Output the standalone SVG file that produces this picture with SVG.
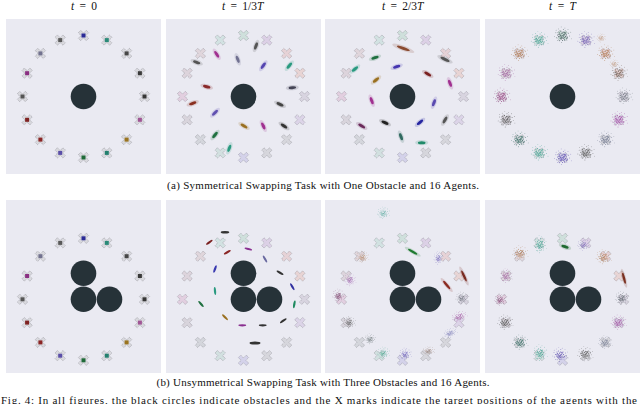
<svg xmlns="http://www.w3.org/2000/svg" xmlns:xlink="http://www.w3.org/1999/xlink" width="640" height="404" viewBox="0 0 640 404">
<style>
.pn{fill:#eaeaf2}
.ob{fill:#263238}
.tx{font-family:"Liberation Serif","Times New Roman",serif;fill:#111}
.xs{stroke:#8e8e96;stroke-width:.6;stroke-dasharray:.9 .7}
</style>
<defs>
<g id="xm"><path class="xs" transform="rotate(45)" d="M-1.7,-5.6H1.7V-1.7H5.6V1.7H1.7V5.6H-1.7V1.7H-5.6V-1.7H-1.7Z"/></g>
<g id="cl" opacity=".8">
<circle cx="-1" cy=".5" r=".6"/><circle cx="1.5" cy="-1" r=".6"/><circle cx="-2.5" cy="-1.5" r=".6"/><circle cx="2" cy="2" r=".6"/><circle cx=".5" cy="-3" r=".6"/><circle cx="-3.5" cy="1" r=".6"/><circle cx="3.5" cy="-.5" r=".6"/><circle cx="-1" cy="3" r=".6"/><circle cx="1" cy="1.2" r=".6"/><circle cx="-.5" cy="-1.8" r=".6"/><circle cx="2.8" cy="1" r=".6"/><circle cx="-2" cy="2.5" r=".6"/><circle cx="0" cy="4.5" r=".5"/><circle cx="4.5" cy="1.5" r=".5"/><circle cx="-4.5" cy="-.5" r=".5"/><circle cx="-1.5" cy="-4" r=".5"/><circle cx="3" cy="-3" r=".5"/><circle cx="-3" cy="-3" r=".5"/><circle cx="5.5" cy="-2" r=".45"/><circle cx="-5.5" cy="2" r=".45"/><circle cx="1.8" cy="4" r=".5"/><circle cx="-2.8" cy="4.8" r=".45"/><circle cx="6.5" cy=".5" r=".4"/><circle cx="-6" cy="-2.5" r=".4"/><circle cx=".8" cy="-5.5" r=".45"/><circle cx="-.8" cy="6.5" r=".4"/><circle cx="4" cy="4.2" r=".4"/><circle cx="-4.2" cy="4.5" r=".4"/><circle cx="7.5" cy="-3" r=".35"/><circle cx="-7.2" cy="1" r=".35"/><circle cx="2.2" cy="-6.8" r=".35"/><circle cx="-3.5" cy="-6" r=".35"/><circle cx="8" cy="3" r=".3"/><circle cx="-1.2" cy="-7.8" r=".3"/><circle cx="5" cy="-5.5" r=".35"/><circle cx="-5.8" cy="-4.8" r=".35"/><circle cx=".3" cy=".2" r=".7"/><circle cx="1.2" cy="-.4" r=".7"/><circle cx="-.6" cy="1.8" r=".7"/><circle cx="2.5" cy="-2" r=".6"/><circle cx="-1.8" cy="-.2" r=".7"/><circle cx=".6" cy="2.6" r=".6"/><circle cx="-2.2" cy="1.2" r=".6"/><circle cx="1.8" cy="-2.6" r=".6"/><circle cx="-3.2" cy="-.8" r=".55"/><circle cx="3.8" cy="2.6" r=".5"/>
</g>
<g id="ag"><ellipse rx="6.5" ry="2.6" opacity=".18"/><ellipse rx="3.8" ry="1.5"/></g>
<g id="ag2"><ellipse rx="3.9" ry="1.1"/></g>
<g id="start">
<use xlink:href="#xm" x="61" y="0" fill="#d9d9de"/><use xlink:href="#xm" x="56.4" y="-23.3" fill="#d9d9de"/><use xlink:href="#xm" x="43.1" y="-43.1" fill="#d9d9de"/><use xlink:href="#xm" x="23.3" y="-56.4" fill="#d9d9de"/><use xlink:href="#xm" x="0" y="-61" fill="#d9d9de"/><use xlink:href="#xm" x="-23.3" y="-56.4" fill="#d9d9de"/><use xlink:href="#xm" x="-43.1" y="-43.1" fill="#d9d9de"/><use xlink:href="#xm" x="-56.4" y="-23.3" fill="#d9d9de"/><use xlink:href="#xm" x="-61" y="0" fill="#d9d9de"/><use xlink:href="#xm" x="-56.4" y="23.3" fill="#d9d9de"/><use xlink:href="#xm" x="-43.1" y="43.1" fill="#d9d9de"/><use xlink:href="#xm" x="-23.3" y="56.4" fill="#d9d9de"/><use xlink:href="#xm" x="0" y="61" fill="#d9d9de"/><use xlink:href="#xm" x="23.3" y="56.4" fill="#d9d9de"/><use xlink:href="#xm" x="43.1" y="43.1" fill="#d9d9de"/><use xlink:href="#xm" x="56.4" y="23.3" fill="#d9d9de"/>
<rect x="59" y="-2" width="4" height="4" fill="#363636"/>
<rect x="54.4" y="-25.3" width="4" height="4" fill="#3a3a3a"/>
<rect x="41.1" y="-45.1" width="4" height="4" fill="#474747"/>
<rect x="21.3" y="-58.4" width="4" height="4" fill="#2a8a78"/>
<rect x="-2" y="-63" width="4" height="4" fill="#2b2b96"/>
<rect x="-25.3" y="-58.4" width="4" height="4" fill="#595959"/>
<rect x="-45.1" y="-45.1" width="4" height="4" fill="#72728f"/>
<rect x="-58.4" y="-25.3" width="4" height="4" fill="#8a2f82"/>
<rect x="-63" y="-2" width="4" height="4" fill="#555"/>
<rect x="-58.4" y="21.3" width="4" height="4" fill="#7f2222"/>
<rect x="-45.1" y="41.1" width="4" height="4" fill="#8b2525"/>
<rect x="-25.3" y="54.4" width="4" height="4" fill="#5a4ea8"/>
<rect x="-2" y="59" width="4" height="4" fill="#1f6a38"/>
<rect x="21.3" y="54.4" width="4" height="4" fill="#23806f"/>
<rect x="41.1" y="41.1" width="4" height="4" fill="#9a7420"/>
<rect x="54.4" y="21.3" width="4" height="4" fill="#a05595"/>
</g>
<g id="ringp">
<use xlink:href="#xm" x="61" y="0" fill="#d8d4e0"/><use xlink:href="#xm" x="56.4" y="-23.3" fill="#e8d4d4"/><use xlink:href="#xm" x="43.1" y="-43.1" fill="#e6d2d6"/><use xlink:href="#xm" x="23.3" y="-56.4" fill="#dcd0e6"/><use xlink:href="#xm" x="0" y="-61" fill="#cfe0dc"/><use xlink:href="#xm" x="-23.3" y="-56.4" fill="#d2e2e2"/><use xlink:href="#xm" x="-43.1" y="-43.1" fill="#e0d6dc"/><use xlink:href="#xm" x="-56.4" y="-23.3" fill="#ddd4dc"/><use xlink:href="#xm" x="-61" y="0" fill="#e2cfe0"/><use xlink:href="#xm" x="-56.4" y="23.3" fill="#d8d4dc"/><use xlink:href="#xm" x="-43.1" y="43.1" fill="#d4d6dc"/><use xlink:href="#xm" x="-23.3" y="56.4" fill="#d2e0e0"/><use xlink:href="#xm" x="0" y="61" fill="#d4d2ea"/><use xlink:href="#xm" x="23.3" y="56.4" fill="#d6d6dc"/><use xlink:href="#xm" x="43.1" y="43.1" fill="#d6d6dc"/><use xlink:href="#xm" x="56.4" y="23.3" fill="#dcd4e8"/>
</g>
</defs>
<rect width="640" height="404" fill="#fff"/>

<g id="titles" class="tx" font-size="11.5" text-anchor="middle" word-spacing="2.5">
<text x="84" y="10"><tspan font-style="italic">t</tspan> = 0</text>
<text x="242.7" y="10"><tspan font-style="italic">t</tspan> = 1/3<tspan font-style="italic">T</tspan></text>
<text x="402.7" y="10"><tspan font-style="italic">t</tspan> = 2/3<tspan font-style="italic">T</tspan></text>
<text x="562.5" y="10"><tspan font-style="italic">t</tspan> = <tspan font-style="italic">T</tspan></text>
</g>

<g id="a-t0">
<rect class="pn" x="6" y="19" width="155" height="155"/>
<circle class="ob" cx="83.5" cy="96.5" r="12.8"/>
<use xlink:href="#start" x="83.5" y="96.5"/>
</g>

<g id="a-t13">
<rect class="pn" x="166" y="19" width="155" height="155"/>
<circle class="ob" cx="243.5" cy="96.5" r="12.8"/>
<use xlink:href="#ringp" x="243.5" y="96.5"/>
<use xlink:href="#ag" fill="#a03090" transform="translate(216.7,54.3) rotate(58)"/>
<use xlink:href="#ag" fill="#555" transform="translate(196.7,62.3) rotate(20)"/>
<use xlink:href="#ag" fill="#707090" transform="translate(237.7,59.3) rotate(70)"/>
<use xlink:href="#ag" fill="#555" transform="translate(256,46) rotate(-70)"/>
<use xlink:href="#ag" fill="#5545b0" transform="translate(263.3,65.7) rotate(-55)"/>
<use xlink:href="#ag" fill="#2a9a80" transform="translate(289.3,65.7) rotate(-50)"/>
<use xlink:href="#ag" fill="#8a2a2a" transform="translate(206.7,86.7) rotate(15)"/>
<use xlink:href="#ag" fill="#445" transform="translate(292.3,87.7) rotate(-5)"/>
<use xlink:href="#ag" fill="#8a3020" transform="translate(192.7,103.3) rotate(-20)"/>
<use xlink:href="#ag" fill="#444" transform="translate(280,104.3) rotate(25)"/>
<use xlink:href="#ag" fill="#6050b0" transform="translate(215,112.7) rotate(-45)"/>
<use xlink:href="#ag" fill="#9a7020" transform="translate(244,126) rotate(30)"/>
<use xlink:href="#ag" fill="#a03090" transform="translate(263.3,126) rotate(65)"/>
<use xlink:href="#ag" fill="#333" transform="translate(284,126) rotate(35)"/>
<use xlink:href="#ag" fill="#1f7040" transform="translate(215,135) rotate(-50)"/>
<use xlink:href="#ag" fill="#2a9a80" transform="translate(229.3,148.3) rotate(-70)"/>
</g>

<g id="a-t23">
<rect class="pn" x="325" y="19" width="155" height="155"/>
<circle class="ob" cx="402.5" cy="96.5" r="12.8"/>
<use xlink:href="#ringp" x="402.5" y="96.5"/>
<use xlink:href="#ag" fill="#8a4a30" transform="translate(403.3,48.3) rotate(20) scale(1.8,1)"/>
<use xlink:href="#ag" fill="#555" transform="translate(445,59.3) rotate(25) scale(1.3,1)"/>
<use xlink:href="#ag" fill="#1f7040" transform="translate(375,57.7) rotate(-20)"/>
<use xlink:href="#ag" fill="#2a9a80" transform="translate(355,69) rotate(-40)"/>
<use xlink:href="#ag" fill="#4535b0" transform="translate(396.7,66.7) rotate(-20)"/>
<use xlink:href="#ag" fill="#7a2020" transform="translate(427.7,74) rotate(30)"/>
<use xlink:href="#ag" fill="#a03090" transform="translate(450,83.3) rotate(70)"/>
<use xlink:href="#ag" fill="#9a7020" transform="translate(376,80) rotate(-40)"/>
<use xlink:href="#ag" fill="#a03090" transform="translate(371.7,100.7) rotate(70)"/>
<use xlink:href="#ag" fill="#5a4ab0" transform="translate(434,102.7) rotate(-70)"/>
<use xlink:href="#ag" fill="#555" transform="translate(445,120) rotate(-60)"/>
<use xlink:href="#ag" fill="#2525a0" transform="translate(420,122.3) rotate(-40)"/>
<use xlink:href="#ag" fill="#222" transform="translate(385,122.7) rotate(25)"/>
<use xlink:href="#ag" fill="#6a2a5a" transform="translate(361.7,126) rotate(30)"/>
<use xlink:href="#ag" fill="#306a60" transform="translate(401,136.7) rotate(70)"/>
<use xlink:href="#ag" fill="#1f8a6a" transform="translate(421.7,142.7) rotate(0)"/>
</g>

<g id="a-tT">
<rect class="pn" x="485" y="19" width="155" height="155"/>
<circle class="ob" cx="562.5" cy="96.5" r="12.8"/>
<use xlink:href="#ringp" x="562.5" y="96.5"/>
<use xlink:href="#cl" fill="#707880" transform="translate(624,96.5) scale(1.1)"/>
<use xlink:href="#cl" fill="#6a5a50" transform="translate(618.9,73.2) scale(1.1)"/>
<use xlink:href="#cl" fill="#b07a50" transform="translate(605.6,53.4) scale(1.1)"/>
<use xlink:href="#cl" fill="#b07a50" transform="translate(601,38) scale(.6)"/>
<use xlink:href="#cl" fill="#b07a50" transform="translate(614,64) scale(.6)"/>
<use xlink:href="#cl" fill="#6a5ab0" transform="translate(585.8,40.1) scale(1.1)"/>
<use xlink:href="#cl" fill="#405858" transform="translate(562.5,35.5) scale(1.1)"/>
<use xlink:href="#cl" fill="#40a090" transform="translate(539.2,40.1) scale(1.1)"/>
<use xlink:href="#cl" fill="#b07a50" transform="translate(519.4,53.4) scale(1.1)"/>
<use xlink:href="#cl" fill="#a060a0" transform="translate(506.1,73.2) scale(1.1)"/>
<use xlink:href="#cl" fill="#904080" transform="translate(501.5,96.5) scale(1.1)"/>
<use xlink:href="#cl" fill="#505050" transform="translate(506.1,119.8) scale(1.1)"/>
<use xlink:href="#cl" fill="#306a60" transform="translate(519.4,139.6) scale(1.1)"/>
<use xlink:href="#cl" fill="#40a090" transform="translate(539.2,152.9) scale(1.1)"/>
<use xlink:href="#cl" fill="#5a4ab0" transform="translate(562.5,157.5) scale(1.1)"/>
<use xlink:href="#cl" fill="#555" transform="translate(585.8,152.9) scale(1.1)"/>
<use xlink:href="#cl" fill="#707890" transform="translate(605.6,139.6) scale(1.1)"/>
<use xlink:href="#cl" fill="#a040a0" transform="translate(618.9,119.8) scale(1.1)"/>
</g>

<text id="cap-a" class="tx" font-size="11" x="323" y="189" text-anchor="middle" textLength="312">(a) Symmetrical Swapping Task with One Obstacle and 16 Agents.</text>

<g id="b-t0">
<rect class="pn" x="6" y="200" width="155" height="173"/>
<circle class="ob" cx="83.5" cy="273.3" r="12.8"/>
<circle class="ob" cx="83.5" cy="299.3" r="12.8"/>
<circle class="ob" cx="109.5" cy="299.3" r="12.8"/>
<use xlink:href="#start" x="83.5" y="299.3"/>
</g>

<g id="b-t13">
<rect class="pn" x="166" y="200" width="155" height="173"/>
<circle class="ob" cx="243.5" cy="273.3" r="12.8"/>
<circle class="ob" cx="243.5" cy="299.3" r="12.8"/>
<circle class="ob" cx="269.5" cy="299.3" r="12.8"/>
<use xlink:href="#ringp" x="243.5" y="299.3"/>
<use xlink:href="#ag2" fill="#333" transform="translate(225,232.3) rotate(0) scale(1.1)"/>
<use xlink:href="#ag2" fill="#7a2020" transform="translate(209.3,242.3) rotate(-35)"/>
<use xlink:href="#ag2" fill="#8a3090" transform="translate(248.3,249) rotate(15)"/>
<use xlink:href="#ag2" fill="#8a2525" transform="translate(227.3,252.3) rotate(-30)"/>
<use xlink:href="#ag2" fill="#6a6aa0" transform="translate(265,259) rotate(60)"/>
<use xlink:href="#ag2" fill="#3a3ab0" transform="translate(215,269) rotate(-70)"/>
<use xlink:href="#ag2" fill="#333" transform="translate(280,272.7) rotate(30)"/>
<use xlink:href="#ag2" fill="#3030a0" transform="translate(292.3,286.7) rotate(60)"/>
<use xlink:href="#ag2" fill="#2a9a80" transform="translate(215,291) rotate(85)"/>
<use xlink:href="#ag2" fill="#1f7040" transform="translate(201,304) rotate(50)"/>
<use xlink:href="#ag2" fill="#1f8a60" transform="translate(294.3,304.3) rotate(-80)"/>
<use xlink:href="#ag2" fill="#9a7020" transform="translate(225,317.3) rotate(45)"/>
<use xlink:href="#ag2" fill="#333" transform="translate(283.3,320.7) rotate(-35)"/>
<use xlink:href="#ag2" fill="#8a3090" transform="translate(242.3,325.3) rotate(0)"/>
<use xlink:href="#ag2" fill="#333" transform="translate(262.7,325.3) rotate(0)"/>
<use xlink:href="#ag2" fill="#333" transform="translate(255,343) rotate(0) scale(1.4)"/>
</g>

<g id="b-t23">
<rect class="pn" x="325" y="200" width="155" height="173"/>
<circle class="ob" cx="402.5" cy="273.3" r="12.8"/>
<circle class="ob" cx="402.5" cy="299.3" r="12.8"/>
<circle class="ob" cx="428.5" cy="299.3" r="12.8"/>
<use xlink:href="#ringp" x="402.5" y="299.3"/>
<use xlink:href="#cl" fill="#40a090" transform="translate(383.3,213.3) scale(.8)"/>
<use xlink:href="#cl" fill="#b07a50" transform="translate(362.5,257.3) scale(.8)"/>
<use xlink:href="#cl" fill="#a060b0" transform="translate(350,280) scale(.75,.9)"/>
<use xlink:href="#cl" fill="#703060" transform="translate(338.3,296) scale(.75,.9)"/>
<use xlink:href="#cl" fill="#505860" transform="translate(461.7,298.3) scale(.8)"/>
<use xlink:href="#cl" fill="#a050a0" transform="translate(459.3,316.7) rotate(-20) scale(1,.7)"/>
<use xlink:href="#cl" fill="#404040" transform="translate(349.3,322.7) scale(.8)"/>
<use xlink:href="#cl" fill="#7070b0" transform="translate(450,333.3) rotate(-20) scale(.9,.6)"/>
<use xlink:href="#cl" fill="#304040" transform="translate(370,339.3) scale(.7)"/>
<use xlink:href="#cl" fill="#30a080" transform="translate(383.3,353.3) scale(.8)"/>
<use xlink:href="#cl" fill="#5040b0" transform="translate(405,354.3) scale(.8)"/>
<use xlink:href="#cl" fill="#806050" transform="translate(428.3,351) scale(.8,.6)"/>
<use xlink:href="#cl" fill="#6050b0" transform="translate(438.3,258.3) scale(.6,.9)"/>
<use xlink:href="#ag" fill="#1f7a30" transform="translate(412.7,251.7) rotate(30) scale(1.4,.8)"/>
<use xlink:href="#ag" fill="#7a2a20" transform="translate(464,276) rotate(65) scale(1.6,.8)"/>
<use xlink:href="#ag" fill="#8a2a20" transform="translate(446.7,285) rotate(50) scale(1.4,.8)"/>
</g>

<g id="b-tT">
<rect class="pn" x="485" y="200" width="155" height="173"/>
<circle class="ob" cx="562.5" cy="273.3" r="12.8"/>
<circle class="ob" cx="562.5" cy="299.3" r="12.8"/>
<circle class="ob" cx="588.5" cy="299.3" r="12.8"/>
<use xlink:href="#ringp" x="562.5" y="299.3"/>
<use xlink:href="#cl" fill="#40a090" transform="translate(540,245) scale(.8,1.2)"/>
<use xlink:href="#ag" fill="#1f6a30" transform="translate(565,246.7) rotate(20)"/>
<use xlink:href="#cl" fill="#6a5ab0" transform="translate(583.3,245) scale(.8)"/>
<use xlink:href="#cl" fill="#b07a50" transform="translate(520,253.3)"/>
<use xlink:href="#cl" fill="#b07a50" transform="translate(603.3,257.3)"/>
<use xlink:href="#cl" fill="#a060a0" transform="translate(506,276) scale(.8,1)"/>
<use xlink:href="#ag" fill="#7a3020" transform="translate(624,278.3) rotate(75) scale(1.5,.8)"/>
<use xlink:href="#cl" fill="#703060" transform="translate(500,300) scale(.8)"/>
<use xlink:href="#cl" fill="#505860" transform="translate(621.7,298.3) scale(.9)"/>
<use xlink:href="#cl" fill="#505050" transform="translate(505,322.7)"/>
<use xlink:href="#cl" fill="#a050a0" transform="translate(618.3,322.7)"/>
<use xlink:href="#cl" fill="#306a60" transform="translate(520,342.7)"/>
<use xlink:href="#cl" fill="#707890" transform="translate(605,342.7) scale(.9)"/>
<use xlink:href="#cl" fill="#40a090" transform="translate(540,353.3) scale(.9,1.1)"/>
<use xlink:href="#cl" fill="#5a4ab0" transform="translate(560,355)"/>
<use xlink:href="#cl" fill="#555" transform="translate(585,354.3)"/>
</g>

<text id="cap-b" class="tx" font-size="11" x="323" y="386" text-anchor="middle" textLength="333">(b) Unsymmetrical Swapping Task with Three Obstacles and 16 Agents.</text>
<text id="footer" class="tx" font-size="11" x="1" y="403.5" textLength="636">Fig. 4: In all figures, the black circles indicate obstacles and the X marks indicate the target positions of the agents with the</text>
</svg>
